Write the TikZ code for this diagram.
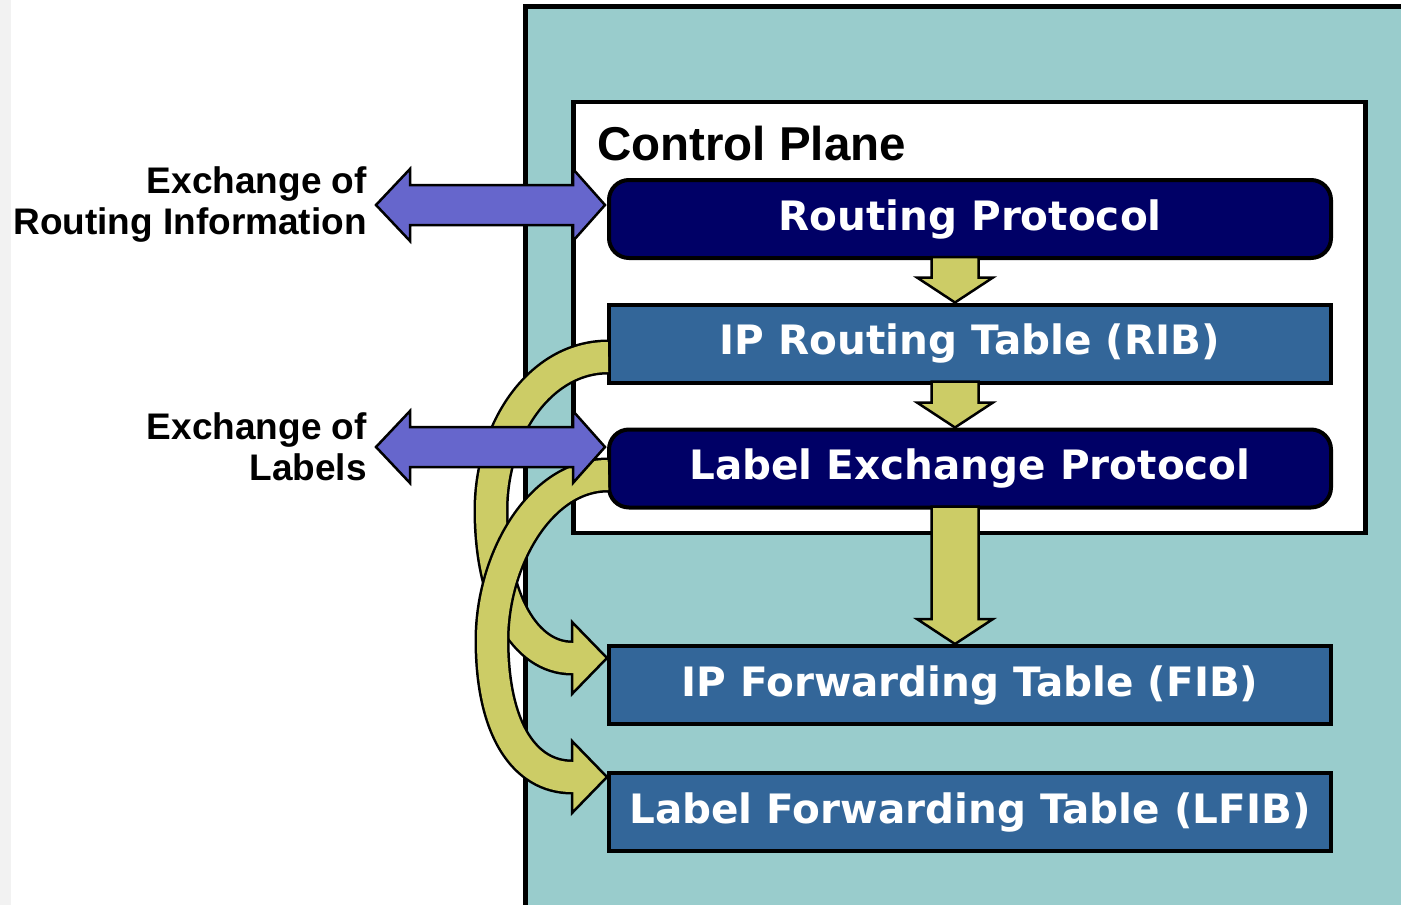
\documentclass[tikz,border=0pt]{standalone}
\usepackage{fontspec}
\setmainfont{Liberation Sans}
\newfontfamily\boxfont{DejaVu Sans}
\usetikzlibrary{calc}
\definecolor{dataplane}{HTML}{99CCCC}
\definecolor{protonavy}{HTML}{000066}
\definecolor{tableblue}{HTML}{336699}
\definecolor{flowyellow}{HTML}{CCCC66}
\definecolor{peerpurple}{HTML}{6666CC}

\tikzset{
  protobox/.style={draw=black, line width=4pt, fill=protonavy, rounded corners=20pt,
    minimum width=722pt, minimum height=78pt, inner sep=0pt, text=white,
    font=\boxfont\bfseries\fontsize{40.5}{44}\selectfont},
  tablebox/.style={protobox, sharp corners, fill=tableblue},
  sidelabel/.style={align=right, inner sep=0pt, font=\bfseries\fontsize{37}{41}\selectfont},
  dropstyle/.style={draw=black, line width=2.5pt, fill=flowyellow, line join=miter},
  peerstyle/.style={draw=black, line width=2.5pt, fill=peerpurple, line join=miter},
  bandedge/.style={line width=35pt, black},
  bandfill/.style={line width=30pt, flowyellow}
}

% straight block arrow pointing down, from #1 to tip #2
\newcommand\dropflow[2]{%
  \draw[dropstyle] let \p1=(#1), \p2=(#2) in
    (\x1-23.5pt,\y1) -- (\x1-23.5pt,\y2+25pt) -- (\x1-38pt,\y2+25pt) -- (\x1,\y2)
    -- (\x1+38pt,\y2+25pt) -- (\x1+23.5pt,\y2+25pt) -- (\x1+23.5pt,\y1) -- cycle;}

% block arrow with two heads, left tip #1, right tip #2
\newcommand\peerflow[2]{%
  \draw[peerstyle] let \p1=(#1), \p2=(#2) in
    (\x1,\y1) -- (\x1+34pt,\y1+36pt) -- (\x1+34pt,\y1+20pt) -- (\x2-32pt,\y1+20pt)
    -- (\x2-32pt,\y1+36pt) -- (\x2,\y1) -- (\x2-32pt,\y1-36pt) -- (\x2-32pt,\y1-20pt)
    -- (\x1+34pt,\y1-20pt) -- (\x1+34pt,\y1-36pt) -- cycle;}

% head of a bent arrow, tip #1
\newcommand\bendhead[1]{%
  \draw[dropstyle] let \p1=(#1) in
    (\x1,\y1) -- (\x1-35pt,\y1-36pt) -- (\x1-35pt,\y1+36pt) -- cycle;}

\begin{document}
\begin{tikzpicture}[x=1pt,y=-1pt]
\useasboundingbox (0,0) rectangle (1401,905);
\clip (0,0) rectangle (1401,905);
\fill[black!5] (0,0) rectangle (11,905);

% router and control plane frames
\draw[line width=4.5pt, fill=dataplane] (525.5,6.5) rectangle (1440,940);
\draw[line width=4.5pt, fill=white] (573.5,102) rectangle (1365.5,533);
\node[anchor=base west, inner sep=0pt, font=\bfseries\fontsize{47.5}{50}\selectfont] (cp) at (597,160) {Control Plane};

% tables and protocols
\node[protobox] (rp) at (970,219) {Routing Protocol};
\node[tablebox] (rib) at (970,343.5) {IP Routing Table (RIB)};
\node[protobox] (lep) at (970,468.5) {Label Exchange Protocol};
\node[tablebox] (fib) at (970,685) {IP Forwarding Table (FIB)};
\node[tablebox] (lfib) at (970,812) {Label Forwarding Table (LFIB)};

% RIB to FIB
\coordinate (fibin) at ($(fib.west)+(0,-27)$);
\draw[bandedge] ($(rib.west)+(1,13.5)$) .. controls (540,357) and (491,430) .. (491,510)
  .. controls (491,600) and (525,658) .. ($(fibin)+(-35,0)$);
\bendhead{fibin}
\draw[bandfill] ($(rib.west)+(1,13.5)$) .. controls (540,357) and (491,430) .. (491,510)
  .. controls (491,600) and (525,658) .. ($(fibin)+(-35,0)$) -- ($(fibin)+(-25,0)$);

% LEP to LFIB
\coordinate (lfibin) at ($(lfib.west)+(0,-35)$);
\draw[bandedge] ($(lep.west)+(1,6.5)$) .. controls (540,475) and (492,560) .. (492,640)
  .. controls (492,730) and (525,777) .. ($(lfibin)+(-35,0)$);
\bendhead{lfibin}
\draw[bandfill] ($(lep.west)+(1,6.5)$) .. controls (540,475) and (492,560) .. (492,640)
  .. controls (492,730) and (525,777) .. ($(lfibin)+(-35,0)$) -- ($(lfibin)+(-25,0)$);

% downward flows
\dropflow{$(rp.south)+(-15,-3)$}{$(rib.north)+(-15,0)$}
\dropflow{$(rib.south)+(-15,-3)$}{$(lep.north)+(-15,0)$}
\dropflow{$(lep.south)+(-15,-3)$}{$(fib.north)+(-15,0)$}

% exchanges with peers
\node[sidelabel, anchor=east] (exroute) at (367,205) {Exchange of\\Routing Information};
\node[sidelabel, anchor=east] (exlabel) at (367,447) {Exchange of\\Labels};
\peerflow{$(exroute.east)+(9,0)$}{$(exroute.east -| rp.west)+(-2,0)$}
\peerflow{$(exlabel.east)+(9,0)$}{$(exlabel.east -| lep.west)+(-2,0)$}

\end{tikzpicture}
\end{document}
